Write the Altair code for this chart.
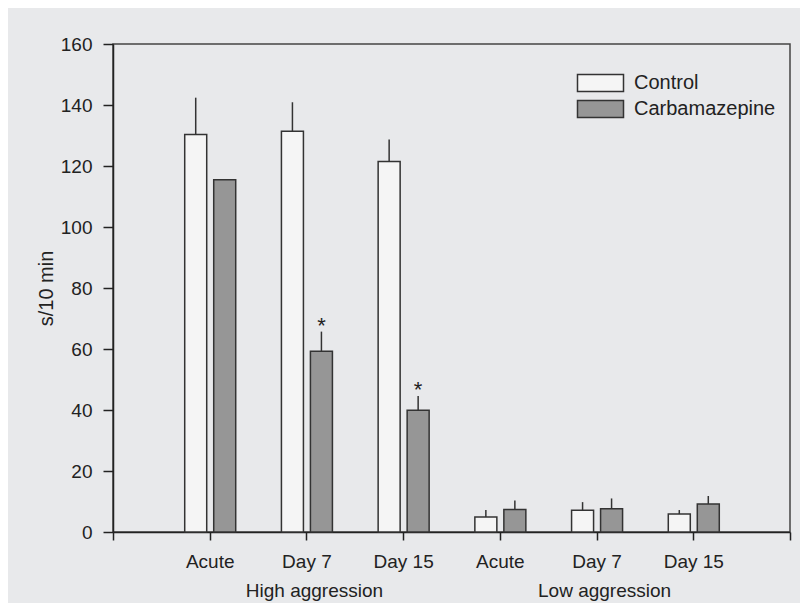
import altair as alt
import pandas as pd

# ---- data ----
categories = ["Acute", "Day 7", "Day 15", "Acute", "Day 7", "Day 15"]
groups = ["High aggression"] * 3 + ["Low aggression"] * 3
treatments = ["Control", "Carbamazepine"]
control_mean = [130.3, 131.4, 121.5, 4.9, 7.1, 5.9]
control_se = [12.1, 9.5, 7.2, 2.3, 2.7, 1.3]
carb_mean = [115.5, 59.3, 39.9, 7.4, 7.6, 9.2]
carb_se = [0.0, 6.4, 4.7, 2.9, 3.4, 2.6]
carb_significant = [False, True, True, False, False, False]
y_ticks = [0, 20, 40, 60, 80, 100, 120, 140, 160]

rows = []
for i, cat in enumerate(categories):
    pos = i + 1
    rows.append(dict(pos=pos, category=cat, group=groups[i], treatment="Control",
                     mean=control_mean[i], se=control_se[i], sig=False))
    rows.append(dict(pos=pos, category=cat, group=groups[i], treatment="Carbamazepine",
                     mean=carb_mean[i], se=carb_se[i], sig=carb_significant[i]))
df = pd.DataFrame(rows)
df["top"] = df["mean"] + df["se"]

grp = (pd.DataFrame({"group": groups, "pos": list(range(1, len(categories) + 1))})
       .groupby("group", sort=False)["pos"].mean().reset_index())

tick_labels = [""] + categories + [""]
label_expr = "[" + ",".join("'" + t + "'" for t in tick_labels) + "][datum.value]"

FONT = "Liberation Sans, Arial, Helvetica, sans-serif"
INK = "#222222"
offsets = {"Control": -14, "Carbamazepine": 15}

x_enc = alt.X("pos:Q",
              scale=alt.Scale(domain=[0, len(categories) + 1], nice=False, zero=False,
                              padding=0),
              axis=alt.Axis(values=list(range(0, len(categories) + 2)), labelExpr=label_expr,
                            title=None, tickSize=8, labelPadding=12, labelFontSize=19,
                            grid=False))
y_scale = alt.Scale(domain=[0, 160], nice=False, padding=0)
y_axis = alt.Axis(values=y_ticks, title="s/10 min", tickSize=10, labelPadding=11,
                  labelFontSize=19, titleFontSize=20, titleFontWeight="normal",
                  titlePadding=4, grid=False)

fill_enc = alt.Fill("treatment:N",
                    scale=alt.Scale(domain=treatments, range=["#f5f5f5", "#969696"]),
                    legend=alt.Legend(title=None, orient="none", legendX=477.5, legendY=29,
                                      symbolType="M-2.706,-1H2.706V1H-2.706Z", symbolSize=289,
                                      symbolStrokeColor="#333333", symbolStrokeWidth=1.5,
                                      symbolOpacity=1,
                                      labelFontSize=20, labelOffset=23.5, labelColor=INK,
                                      labelFont=FONT, rowPadding=2, padding=0))

layers = []
for t in treatments:
    b = alt.Chart(df).transform_filter(alt.datum.treatment == t)
    layers.append(b.mark_bar(width=22, xOffset=offsets[t], stroke="#333333",
                             strokeWidth=1.5, opacity=1)
                  .encode(x=x_enc, y=alt.Y("mean:Q", scale=y_scale, axis=y_axis),
                          fill=fill_enc))
    layers.append(b.transform_filter("datum.se > 0")
                  .mark_rule(xOffset=offsets[t], color="#333333", strokeWidth=1.5)
                  .encode(x="pos:Q", y="mean:Q", y2="top:Q"))
    layers.append(b.transform_filter("datum.sig")
                  .mark_text(text="*", xOffset=offsets[t], baseline="alphabetic",
                             fontSize=22, font=FONT, color=INK, dy=1)
                  .encode(x="pos:Q", y="top:Q"))

group_labels = alt.Chart(grp).mark_text(dx=8, fontSize=19, font=FONT, color=INK,
                                        baseline="alphabetic").encode(
    x="pos:Q", y=alt.value(552.5), text="group:N")
layers.append(group_labels)

chart = alt.layer(*layers).properties(
    width=677, height=488,
    autosize=alt.AutoSizeParams(type="none"),
    padding={"left": 105, "top": 36, "right": 10, "bottom": 71},
    background="#e8e9eb",
).configure_view(stroke="#444444", strokeWidth=1.5).configure_axis(
    domainColor=INK, domainWidth=1.5, tickColor=INK, tickWidth=1.5,
    labelColor=INK, titleColor=INK, labelFont=FONT, titleFont=FONT,
).configure_legend(labelFont=FONT)

chart.save("out.html", embed_options={"renderer": "svg", "actions": False})
